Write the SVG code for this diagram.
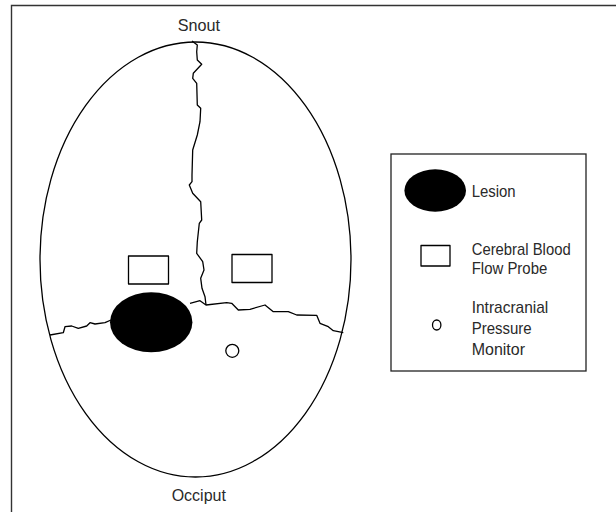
<svg xmlns="http://www.w3.org/2000/svg" width="616" height="512" viewBox="0 0 616 512">
<style>
.t{font-family:"Liberation Sans",Arial,sans-serif;font-size:17px;fill:#2a2a2a}
.ln{fill:none;stroke:#000;stroke-width:1.3;stroke-linejoin:round}
.fr{fill:none;stroke:#333;stroke-width:1.4}
</style>
<rect width="616" height="512" fill="#fff"/>
<path class="fr" d="M11.5,513 V5.5 H617"/>
<g id="skull">
<ellipse class="ln" cx="195.5" cy="259.5" rx="155.5" ry="217.5"/>
</g>
<g id="fissures">
<path class="ln" d="M192,41 L197.3,45 L196.7,51.7 L197.3,60 L201.7,64.3 L193.3,73.3 L192.7,78.3 L196.7,83.3 L197.3,105 L200.7,108.3 L200,121.7 L197.3,135 L192.7,150 L192,175 L192,181.7 L189.3,185 L192.7,193.3 L200.7,201.7 L201.7,220 L199.3,223.3 L197.3,241.7 L196.7,253.3 L202.7,261.7 L204,270 L200.7,278.3 L202,288.3 L205,296.7 L206,305"/>
<path class="ln" d="M50,335 L63.3,332.7 L65,326.7 L71.7,326 L78.3,328.3 L86.7,326 L90,322.7 L95,324 L105,322.7 L111,320"/>
<path class="ln" d="M190,303.3 L200,300.7 L206,305 L226.7,302.7 L231.7,303.3 L238.3,310 L250,309.3 L265,305 L273.3,311.7 L288.3,311.7 L296.7,315 L316.7,315.3 L320,323.3 L328.3,326.7 L333.3,330.7 L343.3,332.7"/>
</g>
<g id="probe-left"><rect class="ln" x="128.5" y="256" width="40" height="28"/></g>
<g id="probe-right"><rect class="ln" x="232" y="254.5" width="40" height="28"/></g>
<g id="lesion"><ellipse cx="151.2" cy="322.3" rx="41.2" ry="30" fill="#000"/></g>
<g id="icp-monitor"><ellipse class="ln" cx="232.3" cy="350.8" rx="6.5" ry="6.5"/></g>
<text class="t" x="198.8" y="31" text-anchor="middle" textLength="42.3" lengthAdjust="spacingAndGlyphs">Snout</text>
<text class="t" x="198.8" y="500.5" text-anchor="middle" textLength="54.3" lengthAdjust="spacingAndGlyphs">Occiput</text>
<g id="legend">
<rect x="391" y="154" width="195" height="217" fill="none" stroke="#222" stroke-width="1.3"/>
<ellipse cx="435.2" cy="190.5" rx="30.8" ry="21.2" fill="#000"/>
<text class="t" x="471.7" y="197.3" textLength="44" lengthAdjust="spacingAndGlyphs">Lesion</text>
<rect class="ln" x="421" y="245.5" width="29" height="20.5"/>
<text class="t" x="471.7" y="255" textLength="99" lengthAdjust="spacingAndGlyphs">Cerebral Blood</text>
<text class="t" x="471.7" y="274" textLength="75.6" lengthAdjust="spacingAndGlyphs">Flow Probe</text>
<ellipse class="ln" cx="436.7" cy="325" rx="4.2" ry="5"/>
<text class="t" x="471.7" y="312.5" textLength="76.6" lengthAdjust="spacingAndGlyphs">Intracranial</text>
<text class="t" x="471.7" y="333.5" textLength="60" lengthAdjust="spacingAndGlyphs">Pressure</text>
<text class="t" x="471.7" y="354.5" textLength="53.3" lengthAdjust="spacingAndGlyphs">Monitor</text>
</g>
</svg>
